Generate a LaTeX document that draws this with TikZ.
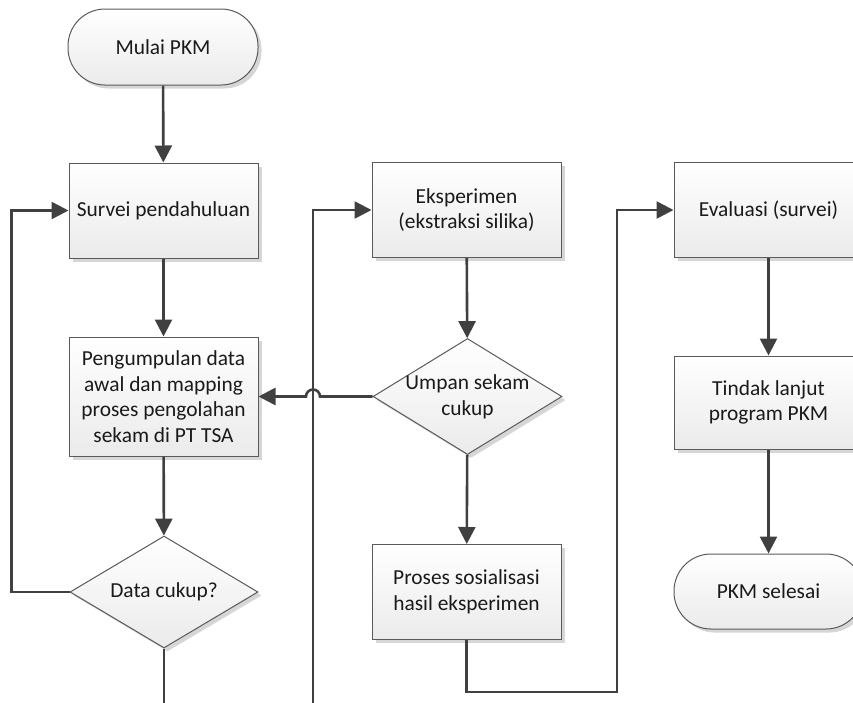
\documentclass[tikz,border=0pt]{standalone}
\usepackage{fontspec}
\setmainfont{Carlito}
\usetikzlibrary{arrows.meta,shapes.geometric,shadows}
\definecolor{ln}{HTML}{404040}
\definecolor{bd}{HTML}{5A5A5A}
\definecolor{sh}{HTML}{D6D6D6}
\definecolor{tx}{HTML}{1A1A1A}
\begin{document}
\begin{tikzpicture}[x=1pt,y=-1pt,
  font=\fontsize{21.4}{25.7}\selectfont,
  base/.style={draw=bd, line width=1pt, top color=white, bottom color=black!8,
    drop shadow={shadow xshift=3.5pt, shadow yshift=-3.5pt, fill=sh, opacity=1},
    text=tx, align=center, inner sep=0pt},
  proc/.style={base, rectangle, minimum width=189pt, minimum height=95pt},
  term/.style={base, rectangle, rounded corners=37pt, minimum width=190pt, minimum height=76pt},
  dec/.style={base, diamond, minimum width=188pt, minimum height=112pt},
  lbl/.style={text=tx, align=center, inner sep=0pt},
  flow/.style={draw=ln, line width=2.6pt, -{Triangle[length=17pt,width=17pt]}},
  plain/.style={draw=ln, line width=2.6pt}
]
\useasboundingbox (0,0) rectangle (853,702);
\clip (0,0) rectangle (853,702);

\node[term] (start) at (163,47) {Mulai PKM};
\node[proc] (sv) at (163.5,210.5) {Survei pendahuluan};
\node[proc, minimum height=119pt] (pg) at (163.5,396.5) {Pengumpulan data\\awal dan mapping\\proses pengolahan\\sekam di PT TSA};
\node[dec, label={[lbl]center:Data cukup?}] (dc) at (164,592) {};

\node[proc] (ex) at (466.5,210) {Eksperimen\\(ekstraksi silika)};
\node[dec, minimum width=189pt, minimum height=116pt, label={[lbl]center:Umpan sekam\\cukup}] (um) at (467.5,396.5) {};
\node[proc] (ps) at (466.5,592) {Proses sosialisasi\\hasil eksperimen};

\node[proc] (ev) at (768.5,210) {Evaluasi (survei)};
\node[proc, minimum height=93pt] (tl) at (768.5,402.5) {Tindak lanjut\\program PKM};
\node[term, minimum width=189pt, minimum height=75pt] (end) at (768.5,591.5) {PKM selesai};

\coordinate (dcout) at (164,712);
\coordinate (col2) at (313,712);

\draw[flow] (start) -- (sv);
\draw[flow] (sv) -- (pg);
\draw[flow] (pg) -- (dc);
\draw[plain] (dc.south) -- (dcout);
\draw[flow] (dc.west) -- ++(-58,0) |- (sv.west);

\draw[flow] (col2) |- (ex.west);
\draw[flow] (ex) -- (um);
\draw[flow] (um.west) -- (320,396.5) arc[start angle=0,end angle=180,radius=7pt] -- (pg.east);
\draw[flow] (um) -- (ps);
\draw[flow] (ps.south) |- (617,692) |- (ev.west);

\draw[flow] (ev) -- (tl);
\draw[flow] (tl) -- (end);
\end{tikzpicture}
\end{document}
